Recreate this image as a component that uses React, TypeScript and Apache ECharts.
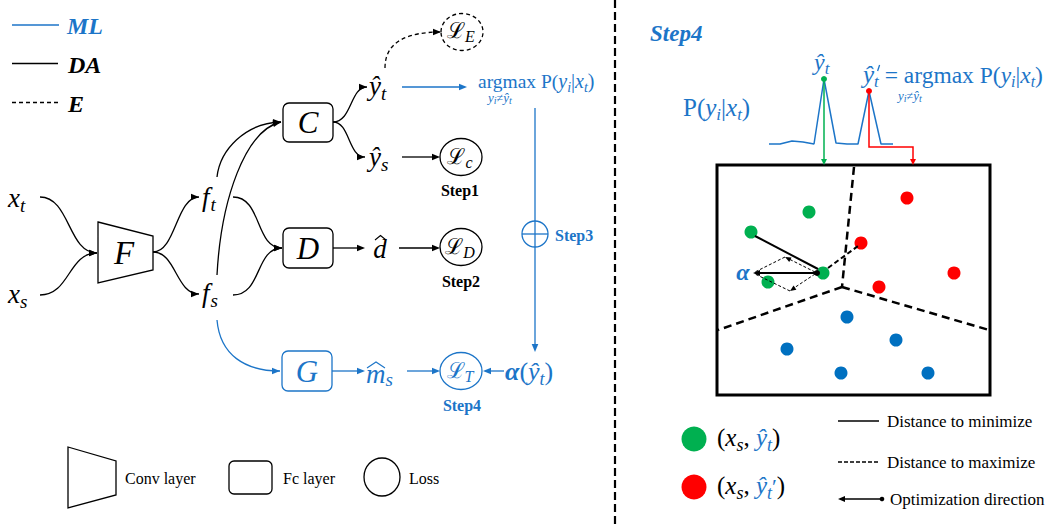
import React, { useEffect, useRef } from 'react';
import * as echarts from 'echarts';

const W = 1051;
const H = 528;
const BLUE = '#1C75C8';
const DOT_BLUE = '#0070C0';
const GREEN = '#00B050';
const RED = '#FF0000';
const BK = '#000';
const SERIF = "'Liberation Serif', 'Times New Roman', 'DejaVu Serif', serif";

// ---- data (positions in the 1051x528 drawing space) ----
const distX = [769, 780, 792, 803, 814, 824, 836, 847, 858, 869, 881, 893];
const distY = [144, 144, 141, 142, 144, 79, 143, 144, 144, 91, 144, 144];
const peakGreen = [[824, 79]];
const peakRed = [[869, 91]];
const greenPts = [[809, 212], [751, 232], [823, 273], [768, 282]];
const redPts = [[907, 198], [861, 243], [954, 273], [879, 287]];
const bluePts = [[847, 317], [896, 340], [787, 349], [841, 373], [928, 373]];
const legendGreen = [[694, 439]];
const legendRed = [[694, 487]];

let _ctx: CanvasRenderingContext2D | null = null;
function measure(t: string, size: number, italic = false, bold = false, family = SERIF) {
  if (!_ctx) _ctx = document.createElement('canvas').getContext('2d');
  _ctx!.font = `${italic ? 'italic ' : ''}${bold ? 'bold ' : ''}${size}px ${family}`;
  return _ctx!.measureText(t).width;
}

function text(x: number, y: number, t: string, size: number, o: any = {}) {
  const align = o.align || 'left';
  return {
    type: 'text', x, y, z: o.z ?? 6, silent: true,
    style: {
      text: t, fill: o.c || BK,
      fontSize: size, fontFamily: o.f || SERIF,
      fontStyle: o.i ? 'italic' : 'normal', fontWeight: o.b ? 'bold' : 'normal',
      align, textAlign: align, verticalAlign: 'middle', textVerticalAlign: 'middle',
    },
  };
}

type P = { t: string; s: number; i?: boolean; b?: boolean; c?: string; dy?: number; dx?: number };
function seq(x: number, base: number, parts: P[], color = BK, center = false) {
  const widths = parts.map(p => measure(p.t, p.s, p.i, p.b));
  let total = 0;
  parts.forEach((p, k) => { total += widths[k] + (p.dx || 0); });
  let cx = center ? x - total / 2 : x;
  const out: any[] = [];
  parts.forEach((p, k) => {
    const px = cx + (p.dx || 0);
    out.push(text(px, base + (p.dy || 0) - 0.34 * p.s, p.t, p.s, { c: p.c || color, i: p.i, b: p.b }));
    cx = px + widths[k];
  });
  return out;
}

function head(x: number, y: number, ang: number, c = BK, len = 8, half = 3.3) {
  const bx = x - len * Math.cos(ang), by = y - len * Math.sin(ang);
  const nx = -Math.sin(ang) * half, ny = Math.cos(ang) * half;
  return { type: 'polygon', z: 7, silent: true, shape: { points: [[x, y], [bx + nx, by + ny], [bx - nx, by - ny]] }, style: { fill: c } };
}
function seg(x1: number, y1: number, x2: number, y2: number, c = BK, w = 1.3, dash?: number[], z = 5) {
  return { type: 'line', z, silent: true, shape: { x1, y1, x2, y2 }, style: { stroke: c, lineWidth: w, lineDash: dash } };
}
function arrow(x1: number, y1: number, x2: number, y2: number, c = BK, w = 1.3, len = 8, half = 3.3) {
  const ang = Math.atan2(y2 - y1, x2 - x1);
  return [seg(x1, y1, x2 - (len - 1) * Math.cos(ang), y2 - (len - 1) * Math.sin(ang), c, w), head(x2, y2, ang, c, len, half)];
}
function bez(x1: number, y1: number, a: number, b: number, c2: number, d: number, x2: number, y2: number, col = BK, w = 1.3, dash?: number[]) {
  return { type: 'bezierCurve', z: 5, silent: true, shape: { x1, y1, cpx1: a, cpy1: b, cpx2: c2, cpy2: d, x2, y2 }, style: { stroke: col, lineWidth: w, fill: 'none', lineDash: dash } };
}
function arrowBez(x1: number, y1: number, a: number, b: number, c2: number, d: number, x2: number, y2: number, col = BK, w = 1.3, dash?: number[]) {
  const ang = Math.atan2(y2 - d, x2 - c2);
  return [bez(x1, y1, a, b, c2, d, x2, y2, col, w, dash), head(x2, y2, ang, col)];
}
function rect(x: number, y: number, w: number, h: number, r: number, c = BK, lw = 1.3) {
  return { type: 'rect', z: 5, silent: true, shape: { x, y, width: w, height: h, r }, style: { fill: 'none', stroke: c, lineWidth: lw } };
}
function ell(cx: number, cy: number, rx: number, ry: number, c = BK, lw = 1.3, dash?: number[]) {
  return { type: 'ellipse', z: 5, silent: true, shape: { cx, cy, rx, ry }, style: { fill: 'none', stroke: c, lineWidth: lw, lineDash: dash } };
}
function poly(points: number[][], c = BK, lw = 1.3, closed = false) {
  return { type: closed ? 'polygon' : 'polyline', z: 5, silent: true, shape: { points }, style: { fill: 'none', stroke: c, lineWidth: lw } };
}
function loss(cx: number, cy: number, base: number, sub: string, c = BK, dash?: number[]) {
  return [
    ell(cx, cy, 21, 18.5, c, 1.3, dash),
    ...seq(cx - 1, base, [{ t: 'ℒ', s: 22 }, { t: sub, s: 16, i: true, dy: 4 }], c, true),
  ];
}

// math sizes
const MB = 27; // base
const MS = 19; // subscript

function buildElements() {
  const e: any[] = [];
  const I = true;
  // legend top-left
  e.push(seg(12, 25, 59, 25, BLUE, 1.5), text(67, 26, 'ML', 24, { c: BLUE, i: I, b: I }));
  e.push(seg(12, 63.5, 58, 63.5, BK, 1.5), text(68, 65, 'DA', 24, { i: I, b: I }));
  e.push(seg(12, 102.5, 58, 102.5, BK, 1.5, [4, 3]), text(68, 104, 'E', 24, { i: I, b: I }));

  // separator
  e.push(seg(615, 0, 615, 528, BK, 2.2, [8, 4]));

  // inputs
  e.push(...seq(8, 207, [{ t: 'x', s: MB, i: I }, { t: 't', s: MS, i: I, dy: 5 }]));
  e.push(...seq(8, 303, [{ t: 'x', s: MB, i: I }, { t: 's', s: MS, i: I, dy: 5 }]));
  e.push(...arrowBez(40, 197, 70, 197, 68, 253, 97, 253));
  e.push(...arrowBez(40, 295, 70, 295, 68, 253, 97, 253));

  // F
  e.push(poly([[98, 222], [153, 236], [153, 270], [98, 283]], BK, 1.3, true));
  e.push(text(124, 253, 'F', 33, { i: I, align: 'center' }));
  e.push(...arrowBez(153, 252, 176, 252, 176, 197, 199, 197));
  e.push(...arrowBez(153, 252, 176, 252, 176, 294, 199, 294));
  e.push(...seq(202, 206, [{ t: 'f', s: MB, i: I }, { t: 't', s: MS, i: I, dy: 5, dx: 1 }]));
  e.push(...seq(202, 302, [{ t: 'f', s: MB, i: I }, { t: 's', s: MS, i: I, dy: 5, dx: 1 }]));

  // to D
  e.push(...arrowBez(233, 197, 262, 197, 255, 248, 282, 248));
  e.push(...arrowBez(233, 295, 262, 295, 255, 248, 282, 248));
  // to C
  e.push(...arrowBez(217, 177, 220, 150, 245, 123, 281, 122));
  e.push(...arrowBez(217, 275, 221, 200, 245, 130, 281, 122));
  // to G
  e.push(...arrowBez(217, 320, 220, 355, 245, 371, 280, 371, BLUE));

  // boxes
  e.push(rect(283, 103, 50, 39, 6), text(308, 122, 'C', 31, { i: I, align: 'center' }));
  e.push(rect(283, 228, 50, 40, 6), text(308, 248, 'D', 31, { i: I, align: 'center' }));
  e.push(rect(282, 351, 50, 40, 6, BLUE), text(307, 371, 'G', 31, { i: I, align: 'center', c: BLUE }));

  // C outputs
  e.push(...arrowBez(333, 122, 352, 122, 350, 87, 367, 87));
  e.push(...arrowBez(333, 122, 350, 122, 348, 157, 365, 157));
  e.push(...seq(369, 95, [{ t: 'ŷ', s: MB, i: I }, { t: 't', s: MS, i: I, dy: 5 }]));
  e.push(...seq(369, 166, [{ t: 'ŷ', s: MB, i: I }, { t: 's', s: MS, i: I, dy: 5 }]));
  e.push(...arrowBez(385, 68, 385, 40, 410, 32, 441, 32, BK, 1.3, [4, 3]));
  e.push(...loss(462, 32, 38, 'E', BK, [4, 3]));
  e.push(...arrow(402, 157, 440, 157));
  e.push(...loss(461, 157, 164, 'c'));
  e.push(text(460, 190, 'Step1', 16, { b: I, align: 'center' }));

  // D outputs
  e.push(...arrow(333, 248, 365, 248));
  e.push(text(380, 258 - 0.34 * MB, 'd', MB, { i: I, align: 'center' }));
  e.push(poly([[375, 240], [380.5, 235.5], [386, 240]], BK, 1.1));
  e.push(...arrow(399, 248, 440, 248));
  e.push(...loss(461, 247, 254, 'D'));
  e.push(text(461, 281, 'Step2', 16, { b: I, align: 'center' }));

  // blue ML path
  e.push(...arrow(402, 87, 467, 87, BLUE));
  e.push(...seq(478, 88, [
    { t: 'argmax P(', s: 19.5 }, { t: 'y', s: 20, i: I }, { t: 'i', s: 14, i: I, dy: 4 },
    { t: '|', s: 20 }, { t: 'x', s: 20, i: I }, { t: 't', s: 14, i: I, dy: 4 }, { t: ')', s: 20 },
  ], BLUE));
  e.push(...seq(488, 102, [
    { t: 'y', s: 13, i: I }, { t: 'i', s: 10, i: I, dy: 2 }, { t: '≠', s: 12 },
    { t: 'ŷ', s: 13, i: I }, { t: 't', s: 10, i: I, dy: 2 },
  ], BLUE));
  e.push(...arrow(535, 108, 535, 352, BLUE));
  e.push(ell(535, 234, 13, 13, BLUE, 1.3), seg(522, 234, 548, 234, BLUE, 1.3));
  e.push(text(555, 235, 'Step3', 16, { b: I, c: BLUE }));

  e.push(...arrow(332, 371, 365, 371, BLUE));
  e.push(...seq(366, 383, [{ t: 'm', s: MB, i: I }, { t: 's', s: MS, i: I, dy: 3 }], BLUE));
  e.push(poly([[367, 368], [376, 362], [385, 368]], BLUE, 1.1));
  e.push(...arrow(407, 371, 440, 371, BLUE));
  e.push(...loss(461, 371, 378, 'T', BLUE));
  e.push(...arrow(504, 371, 483, 371, BLUE));
  e.push(...seq(505, 380, [
    { t: 'α', s: 26, i: I, b: I }, { t: '(', s: 26 }, { t: 'ŷ', s: 26, i: I },
    { t: 't', s: 18, i: I, dy: 5 }, { t: ')', s: 26 },
  ], BLUE));
  e.push(text(462, 405, 'Step4', 16, { b: I, c: BLUE, align: 'center' }));

  // bottom legend
  e.push(poly([[68, 447], [116, 461], [116, 495], [68, 508]], BK, 1.3, true));
  e.push(text(125, 478, 'Conv layer', 16));
  e.push(rect(229, 461, 43, 33, 5));
  e.push(text(283, 478, 'Fc layer', 16));
  e.push(ell(382, 477, 18, 19));
  e.push(text(409, 478, 'Loss', 16));

  // right panel
  e.push(text(650, 33, 'Step4', 23, { c: BLUE, i: I, b: I }));
  e.push(...seq(814, 70, [{ t: 'ŷ', s: 24, i: I }, { t: 't', s: 17, i: I, dy: 4 }], BLUE));
  e.push(...seq(863, 83, [
    { t: 'ŷ', s: 25, i: I }, { t: 't', s: 17, i: I, dy: 4 },
    { t: ' = argmax P(', s: 23.5 }, { t: 'y', s: 23.5, i: I }, { t: 'i', s: 16, i: I, dy: 4 },
    { t: '|', s: 23.5 }, { t: 'x', s: 23.5, i: I }, { t: 't', s: 16, i: I, dy: 4 }, { t: ')', s: 23.5 },
  ], BLUE));
  // prime mark over t (drawn as a short stroke)
  const px = 863 + measure('ŷ', 25, true) + 3;
  e.push(seg(px + 2.5, 65, px + 0.5, 71, BLUE, 1.3));
  e.push(...seq(898, 100, [
    { t: 'y', s: 13, i: I }, { t: 'i', s: 10, i: I, dy: 2 }, { t: '≠', s: 12 },
    { t: 'ŷ', s: 13, i: I }, { t: 't', s: 10, i: I, dy: 2 },
  ], BLUE));
  e.push(...seq(683, 116, [
    { t: 'P(', s: 25 }, { t: 'y', s: 25, i: I }, { t: 'i', s: 17, i: I, dy: 4 },
    { t: '|', s: 25 }, { t: 'x', s: 25, i: I }, { t: 't', s: 17, i: I, dy: 4 }, { t: ')', s: 25 },
  ], BLUE));
  e.push(seg(824, 79, 824, 160, GREEN, 1.5), head(824, 165, Math.PI / 2, GREEN, 6, 3));
  e.push(poly([[869, 91], [869, 147], [913, 147], [913, 160]], RED, 1.5), head(913, 165, Math.PI / 2, RED, 6, 3));

  e.push(rect(717, 165, 273, 230, 0, BK, 3));
  e.push(seg(854, 167, 842, 287, BK, 2.5, [8, 5]));
  e.push(seg(842, 287, 718, 330, BK, 2.5, [8, 5]));
  e.push(seg(842, 287, 989, 330, BK, 2.5, [8, 5]));
  e.push(seg(755, 236, 818, 269, BK, 2, undefined, 8));
  e.push(seg(828, 268, 858, 246, BK, 2, [5, 3], 8));
  e.push(seg(817, 273, 758, 273, BK, 2, undefined, 8), { ...head(753, 273, Math.PI, BK, 7, 3), z: 8 });
  e.push({ type: 'circle', z: 9, silent: true, shape: { cx: 817, cy: 273, r: 3 }, style: { fill: BK } });
  e.push(seg(815, 272, 789, 259, BK, 1, [3, 2], 8), { ...head(785, 257, Math.atan2(-15, -30), BK, 6, 2.5), z: 8 });
  e.push(seg(785, 257, 755, 272, BK, 1, [3, 2], 8));
  e.push(seg(815, 274, 794, 288, BK, 1, [3, 2], 8), { ...head(790, 291, Math.atan2(17, -25), BK, 6, 2.5), z: 8 });
  e.push(seg(790, 291, 755, 274, BK, 1, [3, 2], 8));
  e.push(text(743, 272, 'α', 24, { c: BLUE, i: I, b: I, align: 'center' }));

  // right legend
  e.push(...seq(717, 446, [
    { t: '(', s: 25 }, { t: 'x', s: 25, i: I }, { t: 's', s: 18, i: I, dy: 5 }, { t: ', ', s: 25 },
    { t: 'ŷ', s: 25, i: I, c: BLUE }, { t: 't', s: 18, i: I, dy: 5, c: BLUE }, { t: ')', s: 25 },
  ]));
  e.push(...seq(717, 494, [
    { t: '(', s: 25 }, { t: 'x', s: 25, i: I }, { t: 's', s: 18, i: I, dy: 5 }, { t: ', ', s: 25 },
    { t: 'ŷ', s: 25, i: I, c: BLUE }, { t: 't', s: 18, i: I, dy: 5, c: BLUE }, { t: '′', s: 22, c: BLUE }, { t: ')', s: 25 },
  ]));
  e.push(seg(838, 421, 879, 421, BK, 1.5), text(887, 421, 'Distance to minimize', 17));
  e.push(seg(838, 462, 880, 462, BK, 1.5, [4, 2]), text(887, 462, 'Distance to maximize', 17));
  e.push(seg(843, 499, 881, 499, BK, 1.3), head(838, 499, Math.PI, BK, 7, 3));
  e.push({ type: 'circle', z: 6, silent: true, shape: { cx: 882, cy: 499, r: 2.3 }, style: { fill: BK } });
  e.push(text(890, 499, 'Optimization direction', 17));
  return e;
}

function buildOption() {
  const dot = (data: number[][], color: string, size: number) => ({
    type: 'scatter', data, symbol: 'circle', symbolSize: size, silent: true, z: 3,
    itemStyle: { color, opacity: 1 },
  });
  return {
    animation: false,
    backgroundColor: '#fff',
    grid: { left: 0, right: 0, top: 0, bottom: 0, containLabel: false },
    xAxis: { type: 'value', min: 0, max: W, show: false },
    yAxis: { type: 'value', min: 0, max: H, inverse: true, show: false },
    series: [
      {
        type: 'line', data: distX.map((x, k) => [x, distY[k]]), symbol: 'none', silent: true, z: 3,
        lineStyle: { color: BLUE, width: 1.5 },
      },
      dot(peakGreen, GREEN, 6),
      dot(peakRed, RED, 6),
      dot(greenPts, GREEN, 13),
      dot(redPts, RED, 13),
      dot(bluePts, DOT_BLUE, 13),
      dot(legendGreen, GREEN, 25),
      dot(legendRed, RED, 25),
    ],
    graphic: { elements: buildElements() },
  };
}

export default function App() {
  const ref = useRef<HTMLDivElement>(null);
  useEffect(() => {
    const chart = echarts.init(ref.current!, null, { renderer: 'svg' });
    chart.setOption(buildOption() as any);
    return () => chart.dispose();
  }, []);
  return <div ref={ref} style={{ position: 'fixed', left: 0, top: 0, width: W, height: H, background: '#fff' }} />;
}
